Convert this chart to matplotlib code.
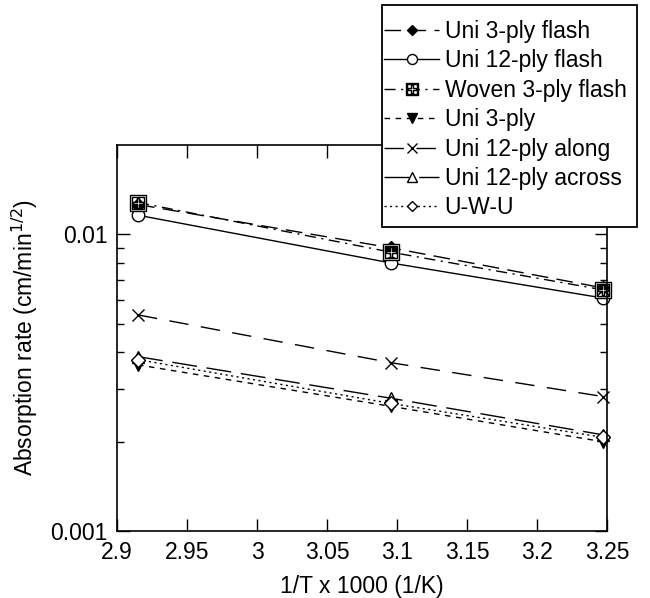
import numpy as np
import matplotlib.pyplot as plt
from matplotlib.patches import Rectangle
from matplotlib.ticker import FixedLocator, FuncFormatter, NullFormatter

plt.rcParams['font.family'] = ['Liberation Sans', 'DejaVu Sans']

# 1/T x 1000 (1/K) for 70, 50 and 35 degC
inv_t = [2.915, 3.096, 3.247]

# absorption rates (cm/min^1/2)
uni3_flash = [0.0126, 0.0090, 0.0066]
uni12_flash = [0.0116, 0.0080, 0.0061]
woven3_flash = [0.0128, 0.0087, 0.0065]
uni3 = [0.00363, 0.00263, 0.00200]
uni12_along = [0.00535, 0.00369, 0.00284]
uni12_across = [0.00387, 0.00280, 0.00211]
uwu = [0.00378, 0.00269, 0.00207]

series = [
    ('Uni 3-ply flash', uni3_flash, 'D', 'black', (0, (12, 6))),
    ('Uni 12-ply flash', uni12_flash, 'o', 'white', '-'),
    ('Woven 3-ply flash', woven3_flash, 's', 'white', (0, (8, 4, 1.5, 4))),
    ('Uni 3-ply', uni3, 'v', 'black', (0, (4, 4))),
    ('Uni 12-ply along', uni12_along, 'x', 'white', (0, (14, 9))),
    ('Uni 12-ply across', uni12_across, '^', 'white', (0, (18, 7))),
    ('U-W-U', uwu, 'D', 'white', (0, (1.5, 2.5))),
]

W, H = 650, 598
fig = plt.figure(figsize=(6.5, 5.98), dpi=100)
ax = fig.add_axes([117 / W, 1 - 531 / H, 490 / W, 386 / H])

handles = []
for name, vals, mk, fc, ls in series:
    ms = 7 if mk == 'D' else 9
    if mk == 's':
        mk = '$\\boxplus$'
        ms = 11
    h, = ax.plot(inv_t, vals, color='black', lw=1.0, ls=ls, marker=mk,
                 ms=ms, mfc=fc, mec='black', mew=1.0, clip_on=False,
                 label=name)
    handles.append(h)

ax.set_yscale('log')
ax.set_xlim(2.9, 3.25)
ax.set_ylim(0.001, 0.02)

ax.xaxis.set_major_locator(FixedLocator(np.arange(2.9, 3.2501, 0.05)))
ax.xaxis.set_major_formatter(FuncFormatter(lambda v, p: '%g' % round(v, 2)))
ax.yaxis.set_major_locator(FixedLocator([0.001, 0.01]))
ax.yaxis.set_major_formatter(FuncFormatter(lambda v, p: '%g' % v))
ax.yaxis.set_minor_locator(FixedLocator([k * 0.001 for k in range(2, 10)]))
ax.yaxis.set_minor_formatter(NullFormatter())

ax.tick_params(which='both', direction='in', top=True, right=True,
               labelsize=16.5, width=1.0, pad=7)
ax.tick_params(which='major', length=9)
ax.tick_params(which='minor', length=5)
for s in ax.spines.values():
    s.set_linewidth(1.2)

ax.set_xlabel('1/T x 1000 (1/K)', fontsize=16.5, labelpad=8)
ax.set_ylabel('Absorption rate (cm/min$^{1/2}$)', fontsize=16.5, labelpad=7)

# legend box drawn by hand so the padding matches
fig.patches.append(Rectangle((382 / W, 1 - 227 / H), 255 / W, 222 / H,
                             transform=fig.transFigure, fill=True,
                             facecolor='white', edgecolor='black', lw=1.3,
                             zorder=5))
leg = fig.legend(handles=handles, loc='upper left',
                 bbox_to_anchor=(384 / W, 1 - 20 / H),
                 fontsize=16.5, frameon=False, markerscale=0.8,
                 handlelength=2.4, handletextpad=0.25, labelspacing=0.28,
                 borderpad=0, borderaxespad=0)
leg.set_zorder(6)

fig.savefig('out.png', dpi=100)
